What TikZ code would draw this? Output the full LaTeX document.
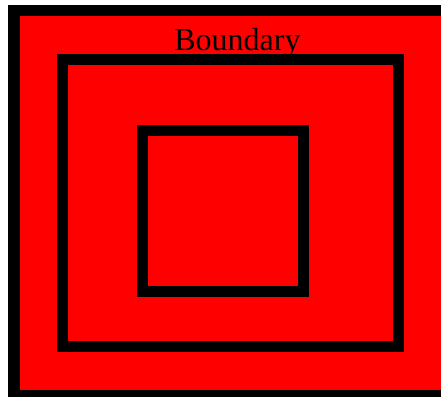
\documentclass[tikz,border=0pt]{standalone}
\usepackage{fontspec}
\setmainfont{Liberation Serif}
\begin{document}
\begin{tikzpicture}[x=0.75pt,y=-0.75pt,
  frame/.style={draw=black,line width=8.6pt,fill=red},
  ring/.style={draw=black,line width=8.6pt}]
\useasboundingbox (0,0) rectangle (441,396);
\clip (0,0) rectangle (441,396);
\draw[frame] (14,10.5) rectangle (447,396);
\node[anchor=base,inner sep=0pt,font=\fontsize{24pt}{28pt}\selectfont] (label) at (237.5,50) {Boundary};
\draw[ring] (62.75,59.75) rectangle (398.25,346.25);
\draw[ring] (142.75,130.75) rectangle (303.25,291.25);
\end{tikzpicture}
\end{document}
